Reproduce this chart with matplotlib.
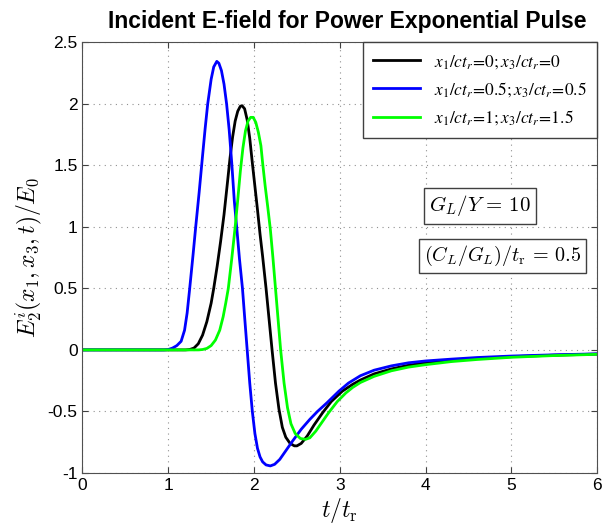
import numpy as np
import matplotlib
matplotlib.use('Agg')
import matplotlib.pyplot as plt

# datos (t/t_r, E/E0)
t_negro = [0, 1.2, 1.25, 1.30, 1.35, 1.40, 1.45, 1.50, 1.53, 1.57, 1.61, 1.65, 1.69, 1.72, 1.75,
           1.78, 1.81, 1.84, 1.86, 1.89, 1.92, 1.95, 1.98, 2.01, 2.04, 2.07, 2.10, 2.14, 2.175,
           2.21, 2.25, 2.29, 2.33, 2.37, 2.42, 2.47, 2.50, 2.55, 2.62, 2.70, 2.80, 2.90, 3.03,
           3.15, 3.24, 3.4, 3.6, 3.8, 4.0, 4.3, 4.6, 5.0, 5.5, 6.0]
y_negro = [0, 0, 0.003, 0.015, 0.05, 0.12, 0.23, 0.38, 0.50, 0.68, 0.88, 1.10, 1.36, 1.56, 1.73,
           1.86, 1.94, 1.98, 1.985, 1.96, 1.87, 1.72, 1.52, 1.33, 1.14, 0.94, 0.76, 0.50, 0.25,
           0, -0.27, -0.48, -0.63, -0.71, -0.76, -0.78, -0.78, -0.76, -0.70, -0.61, -0.51, -0.42, -0.335,
           -0.28, -0.245, -0.195, -0.155, -0.125, -0.105, -0.085, -0.07, -0.055, -0.043, -0.034]

t_azul = [0, 0.95, 1.00, 1.05, 1.10, 1.15, 1.19, 1.22, 1.25, 1.29, 1.32, 1.36, 1.40, 1.43,
          1.46, 1.50, 1.53, 1.566, 1.59, 1.62, 1.65, 1.68, 1.71, 1.74, 1.77, 1.80, 1.83, 1.865,
          1.89, 1.92, 1.95, 1.98, 2.01, 2.04, 2.07, 2.10, 2.14, 2.19, 2.24, 2.30, 2.37, 2.45,
          2.55, 2.65, 2.74, 2.85, 2.99, 3.1, 3.24, 3.4, 3.6, 3.8, 4.0, 4.3, 4.6, 5.0, 5.5, 6.0]
y_azul = [0, 0, 0.003, 0.015, 0.035, 0.07, 0.16, 0.30, 0.50, 0.78, 1.0, 1.28, 1.58, 1.80,
          2.0, 2.2, 2.30, 2.345, 2.33, 2.27, 2.16, 2.0, 1.79, 1.52, 1.21, 0.98, 0.74, 0.50,
          0.27, 0, -0.27, -0.5, -0.68, -0.80, -0.87, -0.91, -0.935, -0.943, -0.93, -0.89, -0.82, -0.74,
          -0.645, -0.565, -0.5, -0.43, -0.335, -0.27, -0.21, -0.165, -0.13, -0.105, -0.09, -0.075, -0.062, -0.05, -0.04, -0.032]

t_verde = [0, 1.35, 1.40, 1.45, 1.50, 1.55, 1.60, 1.64, 1.67, 1.70, 1.74, 1.78, 1.81, 1.84,
           1.87, 1.90, 1.93, 1.96, 1.99, 2.02, 2.05, 2.08, 2.10, 2.13, 2.16, 2.19, 2.22, 2.25,
           2.28, 2.31, 2.35, 2.39, 2.43, 2.48, 2.54, 2.60, 2.65, 2.72, 2.80, 2.87, 2.97, 3.07,
           3.15, 3.24, 3.4, 3.6, 3.8, 4.0, 4.3, 4.6, 5.0, 5.5, 6.0]
y_verde = [0, 0, 0.003, 0.012, 0.035, 0.08, 0.16, 0.27, 0.38, 0.50, 0.74, 1.0, 1.22, 1.45,
           1.64, 1.78, 1.86, 1.89, 1.89, 1.85, 1.77, 1.66, 1.52, 1.33, 1.16, 0.98, 0.75, 0.50,
           0.25, 0, -0.27, -0.47, -0.60, -0.68, -0.72, -0.727, -0.715, -0.66, -0.58, -0.51, -0.42, -0.35,
           -0.305, -0.265, -0.215, -0.17, -0.14, -0.12, -0.095, -0.078, -0.06, -0.046, -0.036]

etiquetas = [r'$x_{\mathit{1}}/ct_r\!=\!\mathit{0};x_{\mathit{3}}/ct_r\!=\!\mathit{0}$',
             r'$x_{\mathit{1}}/ct_r\!=\!\mathit{0.5};x_{\mathit{3}}/ct_r\!=\!\mathit{0.5}$',
             r'$x_{\mathit{1}}/ct_r\!=\!\mathit{1};x_{\mathit{3}}/ct_r\!=\!\mathit{1.5}$']

plt.rcParams['font.family'] = ['Liberation Sans', 'DejaVu Sans']
plt.rcParams['mathtext.fontset'] = 'cm'

fig = plt.figure(figsize=(6.02, 5.29), dpi=100)
ax = fig.add_axes([0.137, 0.106, 0.855, 0.814])

ax.plot(t_negro, y_negro, color='black', lw=2.0, label=etiquetas[0])
ax.plot(t_azul, y_azul, color='#0000ff', lw=2.0, label=etiquetas[1])
ax.plot(t_verde, y_verde, color='#00ff00', lw=2.0, label=etiquetas[2])

ax.set_xlim(0, 6)
ax.set_ylim(-1, 2.5)
ax.set_xticks(np.arange(0, 7, 1))
ax.set_yticks(np.arange(-1, 2.6, 0.5))
ax.set_yticklabels(['-1', '-0.5', '0', '0.5', '1', '1.5', '2', '2.5'])
ax.tick_params(direction='in', top=True, right=True, labelsize=12.5, length=4, color='#404040')
ax.grid(True, linestyle=(0, (1, 4)), color='#909090', lw=0.8)
for s in ax.spines.values():
    s.set_color('#505050')

fig.text(347 / 602, 1 - 28 / 529, 'Incident E-field for Power Exponential Pulse',
         fontsize=16.5, fontweight='bold', ha='center', va='baseline')
ax.set_xlabel(r'$t/t_{\rm r}$', fontsize=17, labelpad=2)
ax.set_ylabel(r'$E_2^i(x_1,x_3,t)/E_0$', fontsize=17, labelpad=2)

leg = ax.legend(loc='upper right', fontsize=12.5, frameon=True, fancybox=False,
                edgecolor='#404040', framealpha=1, handlelength=2.7, borderaxespad=0,
                labelspacing=0.55, borderpad=0.6)
leg.get_frame().set_linewidth(1.0)
for txt in leg.get_texts():
    txt.set_math_fontfamily('stix')

caja = dict(boxstyle='square,pad=0.25', facecolor='white', edgecolor='#404040', lw=1.0)
ax.text(4.63, 1.17, r'$G_L/Y\,=\,10$', fontsize=15, ha='center', va='center', bbox=caja)
ax.text(4.9, 0.76, r'$(C_L/G_L)/t_{\rm r}\,=\,0.5$', fontsize=14.5, ha='center', va='center', bbox=caja)

fig.savefig('out.png', dpi=100)
